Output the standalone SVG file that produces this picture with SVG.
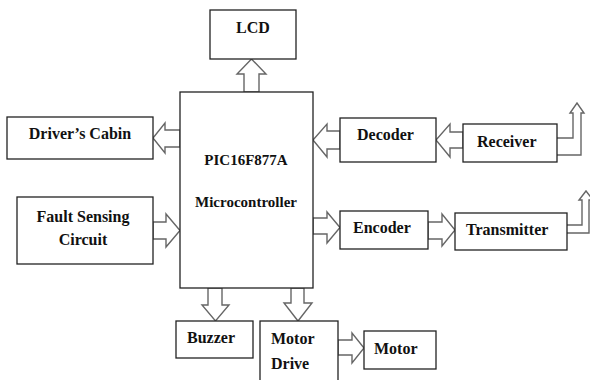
<svg xmlns="http://www.w3.org/2000/svg" width="590" height="380" viewBox="0 0 590 380">
<style>
.box{fill:#fff;stroke:#222;stroke-width:1.3}
.arr{fill:#fff;stroke:#666;stroke-width:1.4;stroke-linejoin:miter}
.t{font-family:"Liberation Serif","Times New Roman",serif;font-weight:bold;font-size:16px;fill:#111}
.m{font-size:15px}
</style>
<rect width="590" height="380" fill="#fff"/>
<g id="connectors">
<polygon class="arr" points="244,92 244,74 237,74 251.5,59 266,74 259,74 259,92"/>
<polygon class="arr" points="180,130 165,130 165,123 153,138 165,153 165,147 180,147"/>
<polygon class="arr" points="153,222 166,222 166,214 180,230.5 166,247 166,239 153,239"/>
<polygon class="arr" points="340,131 327,131 327,124 313,140 327,157 327,149 340,149"/>
<polygon class="arr" points="463,132 450,132 450,124 436,140 450,157 450,148 463,148"/>
<polygon class="arr" points="313,218 327,218 327,212 340,227.5 327,243 327,234 313,234"/>
<polygon class="arr" points="428,222 442,222 442,214 455,230 442,246 442,239 428,239"/>
<polygon class="arr" points="208,288 208,305 202,305 215.5,321 229,305 222,305 222,288"/>
<polygon class="arr" points="291,288 291,303 284,303 298,321 312,303 304,303 304,288"/>
<polygon class="arr" points="338,340 352,340 352,333 364,348 352,363 352,355 338,355"/>
<polyline class="arr" fill="none" points="557,138 573,138 573,113 570,113 577,103 584,113 581,113 581,155 557,155"/>
<polyline class="arr" fill="none" points="567,225 582,225 582,200 579,200 586,191 593,200 589,200 589,233 567,233"/>
</g>
<g id="lcd"><rect class="box" x="210" y="10" width="86" height="49"/><text class="t" x="253" y="33" text-anchor="middle">LCD</text></g>
<g id="mcu"><rect class="box" x="180" y="92" width="133" height="196"/>
<text class="t m" x="246" y="165" text-anchor="middle">PIC16F877A</text>
<text class="t m" x="246" y="207" text-anchor="middle">Microcontroller</text></g>
<g id="cabin"><rect class="box" x="7" y="117" width="146" height="42"/><text class="t" x="80" y="139" text-anchor="middle">Driver’s Cabin</text></g>
<g id="fault"><rect class="box" x="17" y="197" width="136" height="67"/>
<text class="t" x="83" y="222" text-anchor="middle">Fault Sensing</text>
<text class="t" x="83" y="245" text-anchor="middle">Circuit</text></g>
<g id="decoder"><rect class="box" x="340" y="118" width="96" height="44"/><text class="t" x="357" y="140">Decoder</text></g>
<g id="receiver"><rect class="box" x="463" y="124" width="94" height="38"/><text class="t" x="477" y="147">Receiver</text></g>
<g id="encoder"><rect class="box" x="340" y="211" width="88" height="38"/><text class="t" x="353" y="233">Encoder</text></g>
<g id="transmitter"><rect class="box" x="455" y="213" width="112" height="37"/><text class="t" x="466" y="235">Transmitter</text></g>
<g id="buzzer"><rect class="box" x="176" y="321" width="77" height="37"/><text class="t" x="187" y="343">Buzzer</text></g>
<g id="motordrive"><rect class="box" x="260" y="321" width="78" height="65"/>
<text class="t" x="271" y="344">Motor</text><text class="t" x="271" y="369">Drive</text></g>
<g id="motor"><rect class="box" x="364" y="331" width="72" height="38"/><text class="t" x="374" y="354">Motor</text></g>
</svg>
